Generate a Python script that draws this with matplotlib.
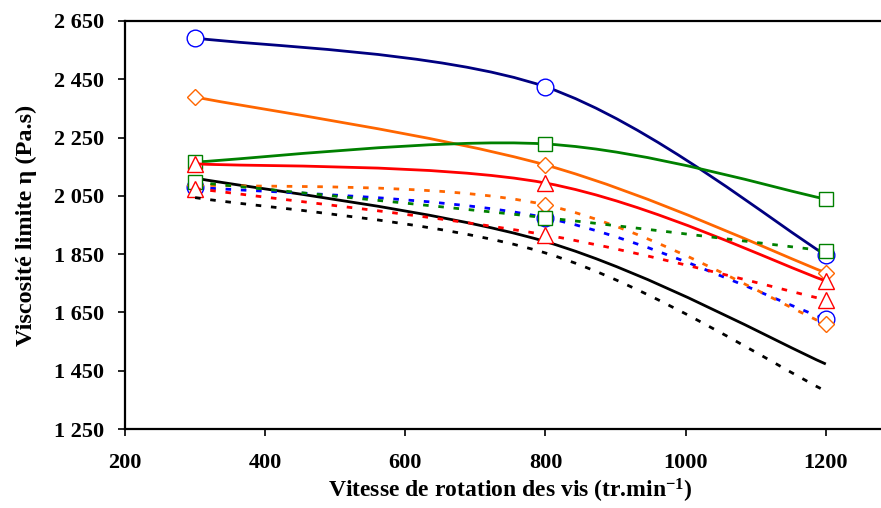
import numpy as np
import matplotlib
matplotlib.use("Agg")
import matplotlib.pyplot as plt
from matplotlib.path import Path
from matplotlib.patches import PathPatch
from matplotlib.ticker import FuncFormatter

plt.rcParams['font.family'] = 'Liberation Serif'
plt.rcParams['font.weight'] = 'bold'
plt.rcParams['axes.labelweight'] = 'bold'
plt.rcParams['mathtext.fontset'] = 'custom'
plt.rcParams['mathtext.rm'] = 'Liberation Serif:bold'
plt.rcParams['mathtext.bf'] = 'Liberation Serif:bold'
plt.rcParams['mathtext.default'] = 'bf'

# screw speed (tr/min)
speed = [300, 800, 1200]

# solid curves
blue_solid = [2592, 2424, 1847]
orange_solid = [2389, 2156, 1786]
green_solid = [2166, 2228, 2039]
red_solid = [2160, 2094, 1758]
black_solid = [2111, 1893, 1473]

# dashed curves
blue_dash = [2080, 1975, 1627]
orange_dash = [2088, 2019, 1610]
green_dash = [2097, 1975, 1861]
red_dash = [2075, 1916, 1693]
black_dash = [2044, 1854, 1380]

x_ticks = [200, 400, 600, 800, 1000, 1200]
y_ticks = [1250, 1450, 1650, 1850, 2050, 2250, 2450, 2650]

DASH = (0, (2.0, 3.5))


def smooth_path(xs, ys):
    # excel-like smoothed line: cubic bezier through the points
    pts = np.column_stack([xs, ys]).astype(float)
    n = len(pts)
    verts = [pts[0]]
    codes = [Path.MOVETO]
    for i in range(n - 1):
        p_prev = pts[max(i - 1, 0)]
        p_next = pts[min(i + 2, n - 1)]
        c1 = pts[i] + (pts[i + 1] - p_prev) / 6.0
        c2 = pts[i + 1] - (p_next - pts[i]) / 6.0
        verts += [c1, c2, pts[i + 1]]
        codes += [Path.CURVE4] * 3
    return Path(verts, codes)


series = [
    (blue_solid, '#000080', '-', 'o', '#0000FF', 12),
    (orange_solid, '#FF6600', '-', 'D', '#FF6600', 8),
    (green_solid, '#008000', '-', 's', '#008000', 10),
    (red_solid, '#FF0000', '-', '^', '#FF0000', 11),
    (black_solid, '#000000', '-', None, None, 0),
    (blue_dash, '#0000FF', DASH, 'o', '#0000FF', 12),
    (orange_dash, '#FF6600', DASH, 'D', '#FF6600', 8),
    (green_dash, '#008000', DASH, 's', '#008000', 10),
    (red_dash, '#FF0000', DASH, '^', '#FF0000', 11),
    (black_dash, '#000000', DASH, None, None, 0),
]

fig = plt.figure(figsize=(8.81, 5.08), dpi=100)
ax = fig.add_axes([0.1419, 0.1555, 0.875, 0.8032])

z = 2
for vals, col, ls, mk, mcol, ms in series:
    patch = PathPatch(smooth_path(speed, vals), facecolor='none', edgecolor=col,
                      lw=2.0, linestyle=ls, capstyle='butt', zorder=z)
    ax.add_patch(patch)
    if mk is not None:
        ax.plot(speed, vals, linestyle='none', marker=mk, markersize=ms,
                markerfacecolor='white', markeredgecolor=mcol,
                markeredgewidth=1.0, zorder=z + 0.5)
    z += 1

ax.set_xlim(200, 1300)
ax.set_ylim(1250, 2650)
ax.set_xticks(x_ticks)
ax.set_yticks(y_ticks)
ax.yaxis.set_major_formatter(FuncFormatter(lambda v, p: f"{int(v):,}".replace(",", " ")))

for s in ['left', 'bottom', 'top']:
    ax.spines[s].set_linewidth(1.6)
ax.spines['right'].set_visible(False)
ax.tick_params(direction='out', length=5, width=1.2, labelsize=16)
ax.tick_params(axis='x', pad=12)
ax.tick_params(axis='y', pad=10)

ax.set_xlabel('Vitesse de rotation des vis (tr.min$^{-1}$)', fontsize=17, labelpad=3)
ax.set_ylabel('Viscosité limite η (Pa.s)', fontsize=17.5, labelpad=12)

fig.savefig('out.png', dpi=100)
